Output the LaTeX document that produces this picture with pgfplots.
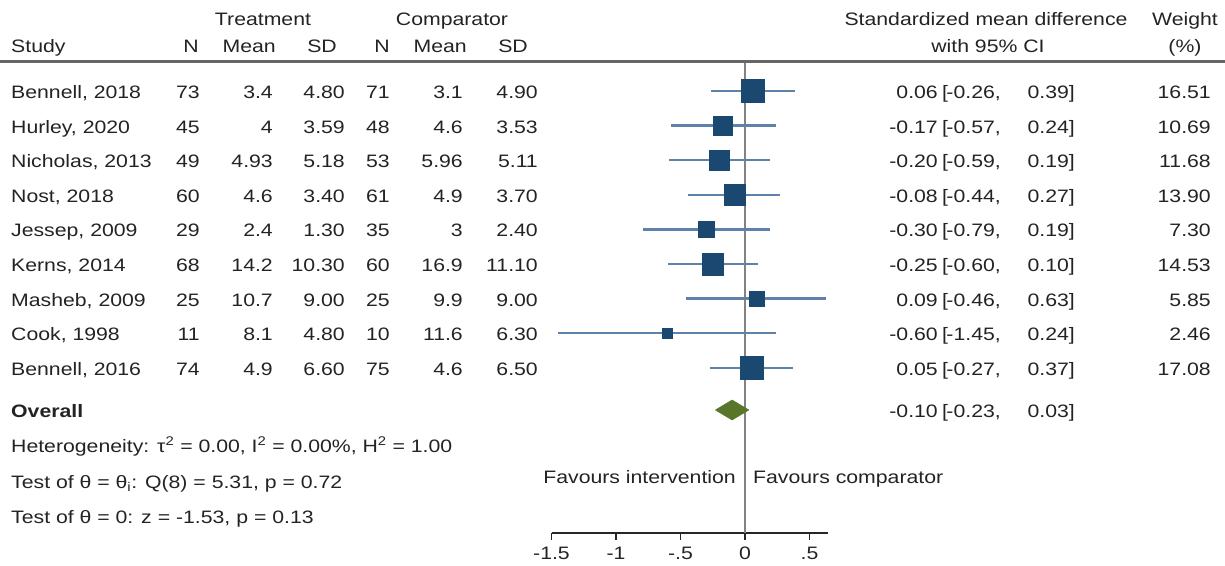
\documentclass[border=0pt]{standalone}
\usepackage{pgfplots}
\pgfplotsset{compat=1.18}
\usepackage{pgfplotstable}
\usepackage{fontspec}
\setmainfont{Liberation Sans}[FakeStretch=1.18]
\newcommand\fnt{\fontsize{18}{21}\selectfont}
\definecolor{mk}{RGB}{26,72,112}
\definecolor{ci}{RGB}{95,130,170}
\definecolor{diam}{RGB}{88,118,42}
\definecolor{txt}{RGB}{35,35,35}
\definecolor{vline}{RGB}{130,130,130}

% y = -(pixel row of the study)
\pgfplotstableread{
y      es     lo     hi    w
-91.0   0.06  -0.26  0.39  16.51
-125.6 -0.17  -0.57  0.24  10.69
-160.2 -0.20  -0.59  0.19  11.68
-194.8 -0.08  -0.44  0.27  13.90
-229.4 -0.30  -0.79  0.19  7.30
-264.0 -0.25  -0.60  0.10  14.53
-298.6  0.09  -0.46  0.63  5.85
-333.2 -0.60  -1.45  0.24  2.46
-367.8  0.05  -0.27  0.37  17.08
}\studies

\begin{document}
\begin{tikzpicture}[every node/.style={inner sep=0pt, font=\fnt, text=txt}]
\begin{axis}[
  x=129pt, y=1pt,
  xmin=-1.5, xmax=0.64, ymin=-533, ymax=-62,
  axis x line*=bottom, axis y line=none,
  x axis line style={-, line width=1.4pt, black!85},
  xtick={-1.5,-1,-0.5,0,0.5},
  xticklabels={-1.5,-1,-.5,0,.5},
  tick align=outside, major tick length=7pt,
  every tick/.style={black!85, line width=1.4pt},
  xticklabel style={font=\fnt, text=txt, inner sep=0pt, yshift=-7pt},
  clip=false,
]
\coordinate (O) at (axis cs:0,0);
% line of no effect
\addplot[vline, line width=1.5pt, forget plot] coordinates {(0,-63) (0,-533)};
% confidence intervals
\addplot[only marks, mark=none, forget plot,
  error bars/.cd, x dir=both, x explicit, error mark=none,
  error bar style={draw=ci, line width=2.3pt}]
  table[x=es, y=y,
    x error plus expr=\thisrow{hi}-\thisrow{es},
    x error minus expr=\thisrow{es}-\thisrow{lo}] {\studies};
% study markers sized by weight
\addplot[scatter, only marks, mark=square*, color=mk,
  mark options={fill=mk, draw=mk},
  point meta=explicit,
  visualization depends on={2.6*sqrt(\thisrow{w})+1 \as \msz},
  scatter/@pre marker code/.code={\scope[mark size=\msz pt]},
  scatter/@post marker code/.code={\endscope}]
  table[x=es, y=y, meta=w] {\studies};
% overall diamond
\addplot[fill=diam, draw=diam, line width=0.5pt] coordinates
  {(-0.23,-410) (-0.10,-400) (0.03,-410) (-0.10,-420) (-0.23,-410)};
\end{axis}

\begin{scope}[shift={(O)}, xshift=-745pt, x=1pt, y=-1pt]
% header
\node[anchor=base] at (263,26) {Treatment};
\node[anchor=base] at (452,26) {Comparator};
\node[anchor=base west] at (11,53) {Study};
\node[anchor=base east] at (199,53) {N};
\node[anchor=base east] at (276,53) {Mean};
\node[anchor=base east] at (337,53) {SD};
\node[anchor=base east] at (390,53) {N};
\node[anchor=base east] at (467,53) {Mean};
\node[anchor=base east] at (528,53) {SD};
\node[anchor=base] at (986,26) {Standardized mean difference};
\node[anchor=base] at (988,53) {with 95\% CI};
\node[anchor=base] at (1185,26) {Weight};
\node[anchor=base] at (1185,53) {(\%)};
\draw[line width=3pt, black!60] (0,62) -- (1225,62);
% rows
\foreach [count=\i] \n/\a/\b/\c/\d/\e/\f/\es/\lo/\hi/\w in {
 {Bennell, 2018}/73/3.4/4.80/71/3.1/4.90/0.06/-0.26/0.39/16.51,
 {Hurley, 2020}/45/4/3.59/48/4.6/3.53/-0.17/-0.57/0.24/10.69,
 {Nicholas, 2013}/49/4.93/5.18/53/5.96/5.11/-0.20/-0.59/0.19/11.68,
 {Nost, 2018}/60/4.6/3.40/61/4.9/3.70/-0.08/-0.44/0.27/13.90,
 {Jessep, 2009}/29/2.4/1.30/35/3/2.40/-0.30/-0.79/0.19/7.30,
 {Kerns, 2014}/68/14.2/10.30/60/16.9/11.10/-0.25/-0.60/0.10/14.53,
 {Masheb, 2009}/25/10.7/9.00/25/9.9/9.00/0.09/-0.46/0.63/5.85,
 {Cook, 1998}/11/8.1/4.80/10/11.6/6.30/-0.60/-1.45/0.24/2.46,
 {Bennell, 2016}/74/4.9/6.60/75/4.6/6.50/0.05/-0.27/0.37/17.08}{
  \pgfmathsetmacro\yy{98.5+34.6*(\i-1)}
  \node[anchor=base west] at (11,\yy) {\n};
  \node[anchor=base east] at (200,\yy) {\a};
  \node[anchor=base east] at (273,\yy) {\b};
  \node[anchor=base east] at (345,\yy) {\c};
  \node[anchor=base east] at (390,\yy) {\d};
  \node[anchor=base east] at (463,\yy) {\e};
  \node[anchor=base east] at (538,\yy) {\f};
  \node[anchor=base east] at (938,\yy) {\es};
  \node[anchor=base west] at (942,\yy) {[};
  \node[anchor=base east] at (1001,\yy) {\lo,};
  \node[anchor=base east] at (1075,\yy) {\hi]};
  \node[anchor=base east] at (1211,\yy) {\w};
}
% overall
\node[anchor=base west] at (11,417) {\bfseries Overall};
\node[anchor=base east] at (938,417) {-0.10};
\node[anchor=base west] at (942,417) {[};
\node[anchor=base east] at (1001,417) {-0.23,};
\node[anchor=base east] at (1075,417) {0.03]};
\node[anchor=base west] at (11,452) {Heterogeneity: τ\textsuperscript{2} = 0.00, I\textsuperscript{2} = 0.00\%, H\textsuperscript{2} = 1.00};
\node[anchor=base west] at (11,488) {Test of θ = θ\textsubscript{i}: Q(8) = 5.31, p = 0.72};
\node[anchor=base west] at (11,523) {Test of θ = 0: z = -1.53, p = 0.13};
\node[anchor=base east] at (736,483) {Favours intervention};
\node[anchor=base west] at (753,483) {Favours comparator};
\end{scope}
\pgfresetboundingbox
\begin{scope}[shift={(O)}, xshift=-745pt, x=1pt, y=-1pt]
\useasboundingbox (0,0) rectangle (1225,565);
\end{scope}
\end{tikzpicture}
\end{document}
